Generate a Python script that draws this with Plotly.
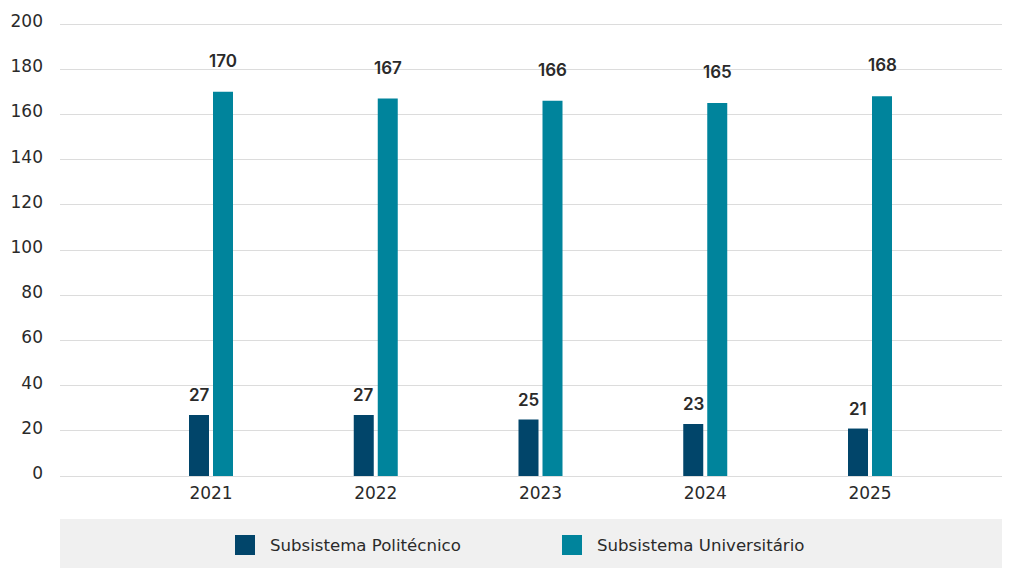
import plotly.graph_objects as go

years = ["2021", "2022", "2023", "2024", "2025"]
politecnico = [27, 27, 25, 23, 21]
universitario = [170, 167, 166, 165, 168]
series_names = ["Subsistema Politécnico", "Subsistema Universitário"]
colors = ["#01456a", "#00849c"]
y_ticks = [0, 20, 40, 60, 80, 100, 120, 140, 160, 180, 200]

FONT = "DejaVu Sans"
LABEL_FONT = "Inter"
TXT = "#2a2a2a"

# page body has an 8px margin: figure is placed at (8, 8) in the window
OFF = 8
W, H = 1010 - OFF, 568 - OFF
px_per_unit = 452 / 200.0
ML, MR, MT, MB = 60 - OFF, 0, 14, 92
PW = W - ML - MR
PH = H - MT - MB
y_top = 200 + ((24 - OFF) - MT) / px_per_unit

group_px = 164.75
first_center = 211 - OFF
x_lo = (ML - first_center) / group_px
x_hi = (W - MR - first_center) / group_px
bw = 20 / group_px
gap = 2 / group_px

xpos = list(range(len(years)))

fig = go.Figure()
fig.add_trace(go.Bar(x=xpos, y=politecnico, name=series_names[0],
                     marker=dict(color=colors[0], line=dict(width=0)),
                     width=bw, offset=-gap - bw, showlegend=False))
fig.add_trace(go.Bar(x=xpos, y=universitario, name=series_names[1],
                     marker=dict(color=colors[1], line=dict(width=0)),
                     width=bw, offset=gap, showlegend=False))

annotations = []
for xi, v in zip(xpos, politecnico):
    annotations.append(dict(x=xi, y=v, xref="x", yref="y", text=str(v), showarrow=False,
                            xshift=-12, yshift=20, yanchor="middle",
                            font=dict(family=LABEL_FONT, size=17, color=TXT, weight=600)))
for xi, v in zip(xpos, universitario):
    annotations.append(dict(x=xi, y=v, xref="x", yref="y", text=str(v), showarrow=False,
                            xshift=12, yshift=31, yanchor="middle",
                            font=dict(family=LABEL_FONT, size=17, color=TXT, weight=600)))


def px_x(p):
    return (p - OFF - ML) / PW


def px_y(p):
    return (MT + PH - (p - OFF)) / PH


shapes = [dict(type="rect", xref="paper", yref="paper",
               x0=px_x(60), x1=px_x(1012), y0=px_y(519), y1=px_y(570),
               fillcolor="#f0f0f0", line=dict(width=0), layer="below")]

legend_sq_x = [235, 562]
legend_txt_x = [268, 595]
for name, col, sx, tx in zip(series_names, colors, legend_sq_x, legend_txt_x):
    shapes.append(dict(type="rect", xref="paper", yref="paper",
                       x0=px_x(sx), x1=px_x(sx + 20), y0=px_y(535), y1=px_y(555),
                       fillcolor=col, line=dict(width=0)))
    annotations.append(dict(x=px_x(tx), y=px_y(545), xref="paper", yref="paper",
                            text=name, showarrow=False, xanchor="left", yanchor="middle",
                            font=dict(family=FONT, size=16.6, color=TXT)))

fig.update_layout(
    width=W, height=H,
    margin=dict(l=ML, r=MR, t=MT, b=MB),
    paper_bgcolor="white", plot_bgcolor="white",
    barmode="overlay",
    font=dict(family=FONT, size=17, color=TXT),
    annotations=annotations,
    shapes=shapes,
    showlegend=False,
    xaxis=dict(range=[x_lo, x_hi], tickvals=xpos, ticktext=years, showgrid=False,
               showline=False, zeroline=False, ticks="", ticklabelstandoff=5,
               tickfont=dict(family=FONT, size=17, color=TXT), fixedrange=True),
    yaxis=dict(range=[0, y_top], tickvals=y_ticks, showgrid=True, gridcolor="#dcdcdc",
               gridwidth=1, zeroline=True, zerolinecolor="#dcdcdc", zerolinewidth=1,
               showline=False, ticks="", ticklabelstandoff=16, ticklabelshift=-3,
               tickfont=dict(family=FONT, size=17, color=TXT), fixedrange=True),
)

fig.write_html("out.html")
